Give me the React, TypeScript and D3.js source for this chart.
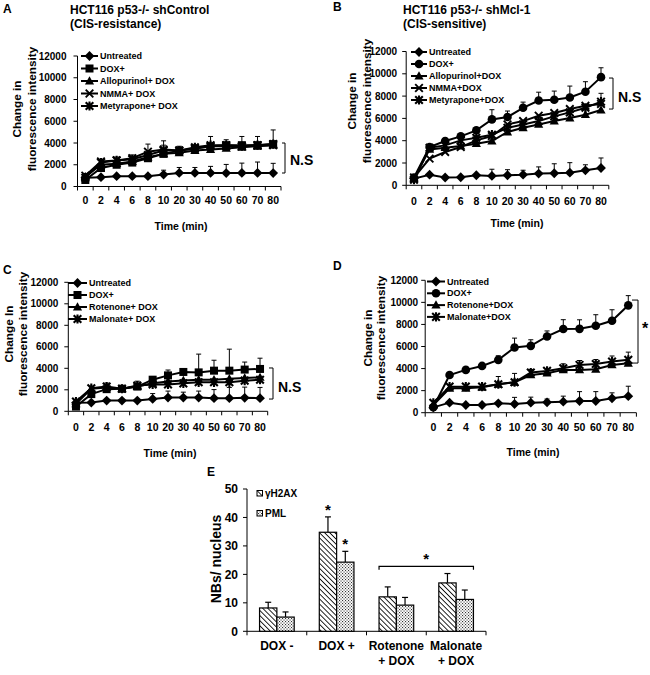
import React from "react";
import * as d3 from "d3";

const FONT = "'Liberation Sans', Arial, Helvetica, sans-serif";

const timeLabels = ["0", "2", "4", "6", "8", "10", "20", "30", "40", "50", "60", "70", "80"];
const intensityTicks = [0, 2000, 4000, 6000, 8000, 10000, 12000];

// Panel A (shControl)
const aUntreated = [800, 860, 950, 950, 950, 1100, 1250, 1250, 1250, 1230, 1250, 1250, 1230];
const aUntreatedErr = [0, 0, 0, 0, 0, 400, 500, 500, 600, 800, 900, 1000, 900];
const aDox = [600, 1700, 2000, 2200, 2600, 3000, 3300, 3500, 3700, 3800, 3800, 3800, 3900];
const aDoxErr = [0, 300, 300, 300, 500, 800, 400, 300, 900, 500, 800, 800, 1300];
const aAllopurinol = [900, 2000, 2100, 2300, 2700, 3000, 3100, 3300, 3400, 3500, 3600, 3700, 3800];
const aAllopurinolErr = [0, 0, 0, 0, 0, 0, 0, 0, 0, 0, 0, 0, 0];
const aNmma = [1000, 2300, 2400, 2600, 3200, 3400, 3300, 3500, 3700, 3700, 3700, 3800, 3800];
const aNmmaErr = [200, 200, 300, 300, 700, 800, 300, 0, 0, 0, 0, 0, 0];
const aMetyrapone = [800, 2200, 2400, 2500, 2900, 3300, 3300, 3600, 3800, 3800, 3700, 3800, 3900];
const aMetyraponeErr = [0, 0, 0, 0, 0, 0, 0, 0, 0, 0, 0, 0, 0];

// Panel B (shMcl-1)
const bUntreated = [600, 950, 700, 720, 900, 840, 900, 950, 1050, 1080, 1130, 1340, 1550];
const bUntreatedErr = [0, 0, 0, 0, 0, 600, 500, 400, 600, 850, 900, 500, 900];
const bDox = [700, 3430, 3970, 4390, 4930, 5910, 6120, 6950, 7600, 7670, 7880, 8390, 9700];
const bDoxErr = [0, 0, 0, 0, 250, 870, 540, 510, 750, 780, 1020, 900, 840];
const bAllopurinol = [600, 3220, 3370, 3520, 3730, 3970, 4780, 5160, 5460, 5760, 6030, 6330, 6750];
const bAllopurinolErr = [0, 0, 0, 0, 0, 0, 0, 0, 0, 0, 0, 0, 0];
const bNmma = [700, 2390, 2990, 3430, 4030, 4420, 5460, 5760, 6240, 6480, 6840, 7130, 7300];
const bNmmaErr = [0, 0, 0, 0, 0, 0, 0, 0, 0, 0, 0, 0, 0];
const bMetyrapone = [500, 3370, 3580, 4030, 4270, 4540, 5160, 5460, 5760, 6180, 6540, 6950, 7500];
const bMetyraponeErr = [0, 0, 0, 0, 0, 0, 0, 0, 0, 0, 0, 0, 750];

// Panel C (shControl, mitochondrial inhibitors)
const cUntreated = [800, 810, 1000, 1000, 1000, 1150, 1280, 1280, 1280, 1220, 1220, 1250, 1220];
const cUntreatedErr = [0, 0, 0, 0, 0, 500, 600, 500, 600, 800, 1000, 1000, 1000];
const cDox = [440, 1600, 2060, 2100, 2300, 2940, 3340, 3660, 3620, 3780, 3780, 3880, 3940];
const cDoxErr = [0, 0, 0, 0, 0, 300, 500, 0, 1700, 970, 2000, 700, 1000];
const cRotenone = [700, 2090, 2220, 2100, 2300, 2600, 2780, 2870, 2940, 2940, 3030, 3090, 3150];
const cRotenoneErr = [0, 0, 400, 0, 500, 0, 0, 0, 0, 0, 0, 0, 0];
const cMalonate = [900, 2150, 2300, 2100, 2400, 2500, 2500, 2600, 2700, 2700, 2700, 2850, 2940];
const cMalonateErr = [0, 0, 0, 0, 0, 0, 0, 0, 0, 0, 0, 0, 0];

// Panel D (shMcl-1, mitochondrial inhibitors)
const dUntreated = [480, 910, 700, 700, 850, 790, 910, 940, 1000, 1060, 1060, 1300, 1500];
const dUntreatedErr = [0, 0, 0, 0, 0, 600, 500, 300, 500, 850, 850, 500, 900];
const dDox = [500, 3420, 3880, 4240, 4790, 5910, 6060, 6910, 7580, 7600, 7880, 8330, 9730];
const dDoxErr = [0, 0, 0, 0, 370, 850, 550, 500, 850, 820, 1000, 1000, 880];
const dRotenone = [700, 2210, 2210, 2300, 2580, 2760, 3420, 3580, 3880, 3880, 3940, 4330, 4480];
const dRotenoneErr = [0, 0, 0, 0, 700, 800, 500, 0, 0, 0, 0, 0, 0];
const dMalonate = [900, 2360, 2360, 2360, 2580, 2760, 3640, 3790, 4030, 4330, 4420, 4640, 4790];
const dMalonateErr = [0, 0, 0, 0, 0, 0, 0, 0, 400, 400, 400, 500, 700];

// Panel E
const eCategories = ["DOX -", "DOX +", "Rotenone + DOX", "Malonate + DOX"];
const eCategoryLines = [["DOX -"], ["DOX +"], ["Rotenone", "+ DOX"], ["Malonate", "+ DOX"]];
const eH2ax = [8.2, 34.8, 12.1, 17.0];
const eH2axErr = [2.0, 5.4, 3.5, 3.3];
const ePml = [5.0, 24.3, 9.2, 11.2];
const ePmlErr = [1.8, 3.8, 2.7, 3.3];
const eTicks = [0, 10, 20, 30, 40, 50];

type Series = { name: string; values: number[]; errors: number[]; marker: string };

function Marker({ type, x, y }: { type: string; x: number; y: number }) {
  const s = 3.8;
  if (type === "diamond")
    return <path d={`M${x},${y - 4.9}L${x + 4.9},${y}L${x},${y + 4.9}L${x - 4.9},${y}Z`} fill="#000" />;
  if (type === "square") return <rect x={x - 4} y={y - 4} width={8} height={8} fill="#000" />;
  if (type === "circle") return <circle cx={x} cy={y} r={4.3} fill="#000" />;
  if (type === "triangle")
    return <path d={`M${x},${y - 4.8}L${x + 4.6},${y + 3.4}L${x - 4.6},${y + 3.4}Z`} fill="#000" />;
  if (type === "x")
    return (
      <path d={`M${x - s},${y - s}L${x + s},${y + s}M${x - s},${y + s}L${x + s},${y - s}`} stroke="#000" strokeWidth={1.9} />
    );
  return (
    <path
      d={`M${x - s},${y - s}L${x + s},${y + s}M${x - s},${y + s}L${x + s},${y - s}M${x},${y - s - 0.8}L${x},${y + s + 0.8}`}
      stroke="#000"
      strokeWidth={2.1}
    />
  );
}

type Layout = {
  x0: number; x1: number; yB: number; yT: number;
  tickGap: number; tickLabelY: number; timeX: number; timeY: number;
  legX0: number; legX1: number; legTextX: number; legY0: number; legDy: number;
  ylabLines: string[]; ylabXs: number[]; ylabCy: number;
  bracketX: number; bracketTop: number; bracketBottom: number; bracketTick: number;
  bracketText: string; bracketTextX: number; bracketTextY: number; bracketFont: number;
};

function LinePanel({ series, L }: { series: Series[]; L: Layout }) {
  const x = d3.scaleBand<string>().domain(timeLabels).range([L.x0, L.x1]);
  const y = d3.scaleLinear().domain([0, 12000]).range([L.yB, L.yT]);
  const cx = (i: number) => (x(timeLabels[i]) as number) + x.bandwidth() / 2;
  const line = d3
    .line<number>()
    .x((_, i) => cx(i))
    .y((v) => y(v));
  const bounds = timeLabels.map((t) => x(t) as number).concat([L.x1]);
  return (
    <g fontFamily={FONT} fontWeight="bold" fill="#000">
      <line x1={L.x0} x2={L.x0} y1={y(12000)} y2={L.yB} stroke="#000" strokeWidth={1} />
      <line x1={L.x0} x2={L.x1} y1={L.yB} y2={L.yB} stroke="#000" strokeWidth={1} />
      {intensityTicks.map((t) => (
        <g key={t}>
          <line x1={L.x0 - 4} x2={L.x0} y1={y(t)} y2={y(t)} stroke="#000" />
          <text x={L.x0 - L.tickGap} y={y(t)} dy="0.35em" textAnchor="end" fontSize={10}>
            {t}
          </text>
        </g>
      ))}
      {bounds.map((b, i) => (
        <line key={i} x1={b} x2={b} y1={L.yB} y2={L.yB + 4} stroke="#000" />
      ))}
      {timeLabels.map((t, i) => (
        <text key={t} x={cx(i)} y={L.tickLabelY} textAnchor="middle" fontSize={10.5}>
          {t}
        </text>
      ))}
      <text x={L.timeX} y={L.timeY} textAnchor="middle" fontSize={10.5}>
        Time (min)
      </text>
      {L.ylabLines.map((s, i) => (
        <text
          key={s}
          transform={`translate(${L.ylabXs[i]},${L.ylabCy}) rotate(-90)`}
          dy="0.35em"
          textAnchor="middle"
          fontSize={11.8}
        >
          {s}
        </text>
      ))}
      {series.map((s) => (
        <g key={s.name}>
          {s.values.map((v, i) =>
            s.errors[i] > 0 ? (
              <g key={i} stroke="#000" strokeWidth={1}>
                <line x1={cx(i)} x2={cx(i)} y1={y(v)} y2={y(v + s.errors[i])} />
                <line x1={cx(i) - 2.5} x2={cx(i) + 2.5} y1={y(v + s.errors[i])} y2={y(v + s.errors[i])} />
              </g>
            ) : null
          )}
          <path d={line(s.values) as string} fill="none" stroke="#000" strokeWidth={2} />
          {s.values.map((v, i) => (
            <Marker key={i} type={s.marker} x={cx(i)} y={y(v)} />
          ))}
        </g>
      ))}
      {series.map((s, i) => {
        const ly = L.legY0 + i * L.legDy;
        return (
          <g key={s.name}>
            <line x1={L.legX0} x2={L.legX1} y1={ly} y2={ly} stroke="#000" strokeWidth={2} />
            <Marker type={s.marker} x={(L.legX0 + L.legX1) / 2} y={ly} />
            <text x={L.legTextX} y={ly} dy="0.35em" fontSize={9}>
              {s.name}
            </text>
          </g>
        );
      })}
      <path
        d={`M${L.bracketX - L.bracketTick},${y(L.bracketTop)}H${L.bracketX}V${y(L.bracketBottom)}H${L.bracketX - L.bracketTick}`}
        fill="none"
        stroke="#000"
        strokeWidth={1}
      />
      <text x={L.bracketTextX} y={L.bracketTextY} dy="0.35em" fontSize={L.bracketFont}>
        {L.bracketText}
      </text>
    </g>
  );
}

const seriesA: Series[] = [
  { name: "Untreated", values: aUntreated, errors: aUntreatedErr, marker: "diamond" },
  { name: "DOX+", values: aDox, errors: aDoxErr, marker: "square" },
  { name: "Allopurinol+ DOX", values: aAllopurinol, errors: aAllopurinolErr, marker: "triangle" },
  { name: "NMMA+ DOX", values: aNmma, errors: aNmmaErr, marker: "x" },
  { name: "Metyrapone+ DOX", values: aMetyrapone, errors: aMetyraponeErr, marker: "star" },
];
const seriesB: Series[] = [
  { name: "Untreated", values: bUntreated, errors: bUntreatedErr, marker: "diamond" },
  { name: "DOX+", values: bDox, errors: bDoxErr, marker: "circle" },
  { name: "Allopurinol+DOX", values: bAllopurinol, errors: bAllopurinolErr, marker: "triangle" },
  { name: "NMMA+DOX", values: bNmma, errors: bNmmaErr, marker: "x" },
  { name: "Metyrapone+DOX", values: bMetyrapone, errors: bMetyraponeErr, marker: "star" },
];
const seriesC: Series[] = [
  { name: "Untreated", values: cUntreated, errors: cUntreatedErr, marker: "diamond" },
  { name: "DOX+", values: cDox, errors: cDoxErr, marker: "square" },
  { name: "Rotenone+ DOX", values: cRotenone, errors: cRotenoneErr, marker: "triangle" },
  { name: "Malonate+ DOX", values: cMalonate, errors: cMalonateErr, marker: "star" },
];
const seriesD: Series[] = [
  { name: "Untreated", values: dUntreated, errors: dUntreatedErr, marker: "diamond" },
  { name: "DOX+", values: dDox, errors: dDoxErr, marker: "circle" },
  { name: "Rotenone+DOX", values: dRotenone, errors: dRotenoneErr, marker: "triangle" },
  { name: "Malonate+DOX", values: dMalonate, errors: dMalonateErr, marker: "star" },
];

function BarPanel() {
  const x0 = 247, x1 = 486, yB = 631.3, yT = 489;
  const x = d3.scaleBand<string>().domain(eCategories).range([x0, x1]).paddingInner(0.42).paddingOuter(0.21);
  const inner = d3.scaleBand<string>().domain(["h", "p"]).range([0, x.bandwidth()]);
  const y = d3.scaleLinear().domain([0, 50]).range([yB, yT]);
  const step = (x1 - x0) / eCategories.length;
  const groups = [
    { key: "h", vals: eH2ax, errs: eH2axErr, fill: "url(#hatch)" },
    { key: "p", vals: ePml, errs: ePmlErr, fill: "url(#dots)" },
  ];
  const bx = (ci: number, k: string) => (x(eCategories[ci]) as number) + (inner(k) as number);
  return (
    <g fontFamily={FONT} fontWeight="bold" fill="#000">
      <line x1={x0} x2={x0} y1={yT} y2={yB} stroke="#000" />
      <line x1={x0} x2={x1} y1={yB} y2={yB} stroke="#000" />
      {eTicks.map((t) => (
        <g key={t}>
          <line x1={x0 - 4} x2={x0} y1={y(t)} y2={y(t)} stroke="#000" />
          <text x={x0 - 9} y={y(t)} dy="0.35em" textAnchor="end" fontSize={12}>
            {t}
          </text>
        </g>
      ))}
      {d3.range(eCategories.length + 1).map((i) => (
        <line key={i} x1={x0 + i * step} x2={x0 + i * step} y1={yB} y2={yB + 4} stroke="#000" />
      ))}
      {groups.map((g) =>
        g.vals.map((v, i) => {
          const bxx = bx(i, g.key);
          const w = inner.bandwidth();
          const c = bxx + w / 2;
          return (
            <g key={g.key + i}>
              <line x1={c} x2={c} y1={y(v)} y2={y(v + g.errs[i])} stroke="#000" strokeWidth={1.2} />
              <line x1={c - 3} x2={c + 3} y1={y(v + g.errs[i])} y2={y(v + g.errs[i])} stroke="#000" strokeWidth={1.2} />
              <rect x={bxx} y={y(v)} width={w} height={yB - y(v)} fill={g.fill} stroke="#000" strokeWidth={1.2} />
            </g>
          );
        })
      )}
      {eCategoryLines.map((lines, i) =>
        lines.map((s, j) => (
          <text
            key={s + i}
            x={(x(eCategories[i]) as number) + x.bandwidth() / 2}
            y={650 + j * 15}
            textAnchor="middle"
            fontSize={12}
          >
            {s}
          </text>
        ))
      )}
      <text transform={`translate(216.5,559) rotate(-90)`} dy="0.35em" textAnchor="middle" fontSize={14}>
        NBs/ nucleus
      </text>
      <rect x={257} y={490.5} width={5.5} height={5.5} fill="url(#hatch)" stroke="#000" strokeWidth={1} />
      <text x={265} y={493.3} dy="0.35em" fontSize={10}>γH2AX</text>
      <rect x={257} y={510.5} width={5.5} height={5.5} fill="url(#dots)" stroke="#000" strokeWidth={1} />
      <text x={265} y={513.3} dy="0.35em" fontSize={10}>PML</text>
      <text x={bx(1, "h") + inner.bandwidth() / 2} y={y(eH2ax[1] + eH2axErr[1]) - 2} textAnchor="middle" fontSize={15}>*</text>
      <text x={bx(1, "p") + inner.bandwidth() / 2} y={y(ePml[1] + ePmlErr[1]) - 2} textAnchor="middle" fontSize={15}>*</text>
      <path
        d={`M${bx(2, "h")},${y(21.6)}V${y(22.8)}H${bx(3, "p") + inner.bandwidth()}V${y(21.6)}`}
        fill="none"
        stroke="#000"
        strokeWidth={1.2}
      />
      <text x={(bx(2, "h") + bx(3, "p") + inner.bandwidth()) / 2} y={y(23.5)} textAnchor="middle" fontSize={15}>*</text>
    </g>
  );
}

export default function App() {
  const LA: Layout = {
    x0: 77.5, x1: 281, yB: 186.5, yT: 56, tickGap: 11, tickLabelY: 204, timeX: 181, timeY: 230,
    legX0: 81, legX1: 98, legTextX: 100, legY0: 56, legDy: 12.5,
    ylabLines: ["Change in", "fluorescence intensity"], ylabXs: [17, 32], ylabCy: 109,
    bracketX: 285, bracketTop: 4000, bracketBottom: 1240, bracketTick: 3,
    bracketText: "N.S", bracketTextX: 290, bracketTextY: 160, bracketFont: 14,
  };
  const LB: Layout = {
    x0: 406.2, x1: 608.8, yB: 185.3, yT: 51.5, tickGap: 9, tickLabelY: 205, timeX: 517, timeY: 227,
    legX0: 411, legX1: 427, legTextX: 429, legY0: 52, legDy: 12,
    ylabLines: ["Change in", "fluorescence intensity"], ylabXs: [352, 367], ylabCy: 101,
    bracketX: 613, bracketTop: 9620, bracketBottom: 6840, bracketTick: 4,
    bracketText: "N.S", bracketTextX: 618, bracketTextY: 97, bracketFont: 14,
  };
  const LC: Layout = {
    x0: 68.3, x1: 267.7, yB: 411.3, yT: 282.3, tickGap: 10, tickLabelY: 430.5, timeX: 170, timeY: 457,
    legX0: 68, legX1: 87, legTextX: 89, legY0: 283, legDy: 12,
    ylabLines: ["Change In", "fluorescence intensity"], ylabXs: [9, 23], ylabCy: 334,
    bracketX: 273, bracketTop: 4030, bracketBottom: 1140, bracketTick: 4,
    bracketText: "N.S", bracketTextX: 278, bracketTextY: 387, bracketFont: 14,
  };
  const LD: Layout = {
    x0: 425.2, x1: 636.4, yB: 412.7, yT: 280.3, tickGap: 7, tickLabelY: 430.5, timeX: 533, timeY: 456,
    legX0: 427, legX1: 445, legTextX: 447, legY0: 281.5, legDy: 11.8,
    ylabLines: ["Change in", "fluorescence intensity"], ylabXs: [367.5, 380.5], ylabCy: 338,
    bracketX: 638, bracketTop: 10210, bracketBottom: 4500, bracketTick: 6,
    bracketText: "*", bracketTextX: 642, bracketTextY: 328, bracketFont: 16,
  };
  return (
    <svg
      width={650}
      height={675}
      style={{ position: "absolute", left: 0, top: 0, background: "#fff" }}
      fontFamily={FONT}
    >
      <defs>
        <pattern id="hatch" width={3.6} height={3.6} patternUnits="userSpaceOnUse" patternTransform="rotate(-45)">
          <rect width={3.6} height={3.6} fill="#fff" />
          <line x1={0} y1={0} x2={0} y2={3.6} stroke="#000" strokeWidth={1.7} />
        </pattern>
        <pattern id="dots" width={3} height={3} patternUnits="userSpaceOnUse">
          <rect width={3} height={3} fill="#fff" />
          <rect x={0} y={0} width={1.1} height={1.1} fill="#333" />
          <rect x={1.5} y={1.5} width={1.1} height={1.1} fill="#333" />
        </pattern>
      </defs>
      <rect width={650} height={675} fill="#fff" />
      <g fontWeight="bold" fontFamily={FONT}>
        <text x={3} y={12.5} fontSize={12}>A</text>
        <text x={333} y={11} fontSize={12}>B</text>
        <text x={3} y={274} fontSize={12}>C</text>
        <text x={333} y={270} fontSize={12}>D</text>
        <text x={207} y={476} fontSize={12}>E</text>
        <text x={70} y={14} fontSize={12}>HCT116 p53-/- shControl</text>
        <text x={70} y={27.5} fontSize={12}>(CIS-resistance)</text>
        <text x={403} y={14} fontSize={12}>HCT116 p53-/- shMcl-1</text>
        <text x={403} y={27.5} fontSize={12}>(CIS-sensitive)</text>
      </g>
      <LinePanel series={seriesA} L={LA} />
      <LinePanel series={seriesB} L={LB} />
      <LinePanel series={seriesC} L={LC} />
      <LinePanel series={seriesD} L={LD} />
      <BarPanel />
    </svg>
  );
}
